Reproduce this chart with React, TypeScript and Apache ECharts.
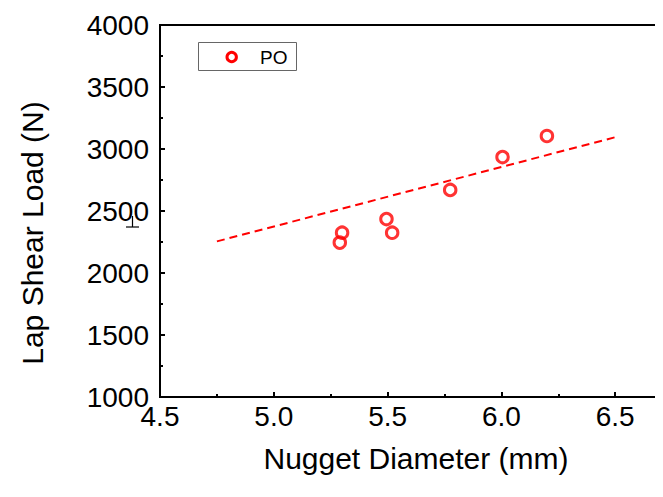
import React, { useEffect, useRef } from "react";
import * as echarts from "echarts";

const diameters = [5.29, 5.3, 5.495, 5.52, 5.775, 6.005, 6.2];
const loads = [2245, 2325, 2435, 2325, 2670, 2935, 3105];
const fitX = [4.75, 6.5];
const fitY = [2255, 3095];
const seriesName = "PO";
const xTitle = "Nugget Diameter (mm)";
const yTitle = "Lap Shear Load (N)";

const FONT = "'Liberation Sans', Arial, sans-serif";

export default function App() {
  const ref = useRef<HTMLDivElement>(null);
  useEffect(() => {
    if (!ref.current) return;
    const chart = echarts.init(ref.current, undefined, { renderer: "svg" });
    const axisCommon = {
      axisLine: { show: true, lineStyle: { color: "#000", width: 2 } },
      axisTick: { show: true, inside: true, length: 5, lineStyle: { color: "#000", width: 2 } },
      minorTick: { show: true, splitNumber: 2, length: 3, lineStyle: { color: "#000", width: 2 } },
      splitLine: { show: false },
      minorSplitLine: { show: false },
    };
    chart.setOption({
      animation: false,
      backgroundColor: "#fff",
      textStyle: { fontFamily: FONT },
      grid: {
        left: 160,
        top: 25,
        bottom: 100,
        right: 31,
        show: true,
        borderColor: "#000",
        borderWidth: 2,
        backgroundColor: "transparent",
      },
      xAxis: {
        type: "value",
        min: 4.5,
        max: 7.0,
        interval: 0.5,
        ...axisCommon,
        axisLabel: {
          color: "#000",
          fontSize: 28,
          fontFamily: FONT,
          margin: 5,
          showMaxLabel: false,
          formatter: (v: number) => (v >= 7 ? "" : v.toFixed(1)),
        },
      },
      yAxis: {
        type: "value",
        min: 1000,
        max: 4000,
        interval: 500,
        ...axisCommon,
        axisLabel: {
          color: "#000",
          fontSize: 28,
          fontFamily: FONT,
          margin: 11,
          formatter: (v: number) => String(v),
        },
      },
      graphic: [
        {
          type: "text",
          x: 32,
          y: 233,
          rotation: Math.PI / 2,
          style: {
            text: yTitle,
            fill: "#000",
            fontSize: 30,
            fontFamily: FONT,
            textAlign: "center",
            textVerticalAlign: "middle",
          },
        },
        {
          type: "text",
          x: 416,
          y: 458,
          style: {
            text: xTitle,
            fill: "#000",
            fontSize: 30,
            fontFamily: FONT,
            textAlign: "center",
            textVerticalAlign: "middle",
          },
        },
        {
          type: "line",
          shape: { x1: 132.5, y1: 216, x2: 132.5, y2: 227 },
          style: { stroke: "#000", lineWidth: 1.2 },
        },
        {
          type: "line",
          shape: { x1: 126, y1: 227, x2: 139, y2: 227 },
          style: { stroke: "#000", lineWidth: 1.2 },
        },
        {
          type: "group",
          z: 100,
          children: [
            {
              type: "rect",
              shape: { x: 198.5, y: 42.5, width: 98, height: 28 },
              style: { fill: "#fff", stroke: "#666", lineWidth: 1 },
            },
            {
              type: "circle",
              shape: { cx: 231.7, cy: 57, r: 4.7 },
              style: { fill: "none", stroke: "#ff0000", lineWidth: 3 },
            },
            {
              type: "text",
              x: 260,
              y: 57,
              style: {
                text: seriesName,
                fill: "#000",
                fontSize: 19,
                fontFamily: FONT,
                textAlign: "left",
                textVerticalAlign: "middle",
              },
            },
          ],
        },
      ],
      series: [
        {
          name: "fit",
          type: "line",
          data: fitX.map((x, i) => [x, fitY[i]]),
          symbol: "none",
          lineStyle: { color: "#ff0000", width: 2, type: [8, 5] },
          z: 2,
        },
        {
          name: seriesName,
          type: "scatter",
          data: diameters.map((x, i) => [x, loads[i]]),
          symbol: "circle",
          symbolSize: 11.5,
          itemStyle: { color: "rgba(0,0,0,0)", borderColor: "#ff0000", borderWidth: 3 },
          z: 3,
        },
      ],
    });
    return () => chart.dispose();
  }, []);
  return (
    <div style={{ width: 663, height: 497, margin: -8, overflow: "hidden", position: "relative" }}>
      <div ref={ref} style={{ width: 760, height: 497 }} />
    </div>
  );
}
